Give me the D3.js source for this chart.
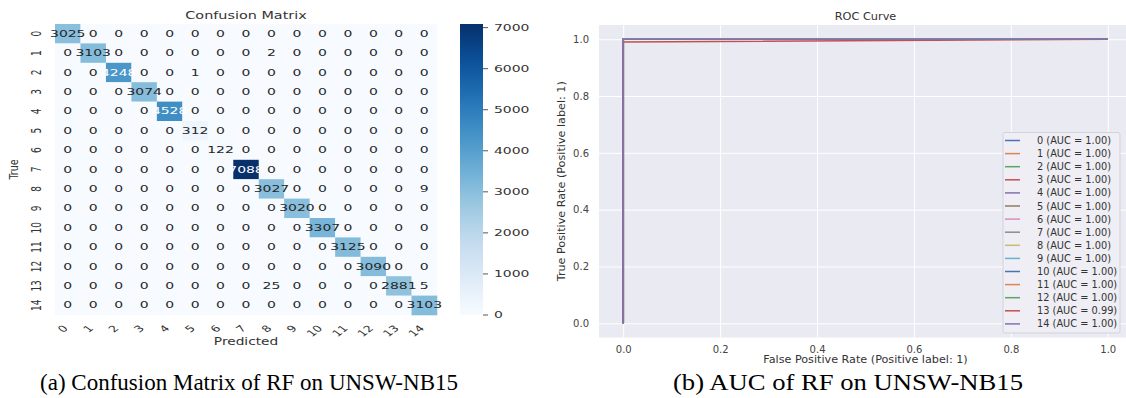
<!DOCTYPE html>
<html>
<head>
<meta charset="utf-8">
<script src="https://cdn.jsdelivr.net/npm/d3@7"></script>
<style>
  html, body { margin: 0; padding: 0; background: #fff; }
  svg { display: block; font-family: "DejaVu Sans", sans-serif; }
</style>
</head>
<body>
<svg id="chart" width="1126" height="398"></svg>
<script>
// ---------------- DATA ----------------
const cmLabels = ["0","1","2","3","4","5","6","7","8","9","10","11","12","13","14"];
const cmRow0  = [3025,0,0,0,0,0,0,0,0,0,0,0,0,0,0];
const cmRow1  = [0,3103,0,0,0,0,0,0,2,0,0,0,0,0,0];
const cmRow2  = [0,0,4248,0,0,1,0,0,0,0,0,0,0,0,0];
const cmRow3  = [0,0,0,3074,0,0,0,0,0,0,0,0,0,0,0];
const cmRow4  = [0,0,0,0,4528,0,0,0,0,0,0,0,0,0,0];
const cmRow5  = [0,0,0,0,0,312,0,0,0,0,0,0,0,0,0];
const cmRow6  = [0,0,0,0,0,0,122,0,0,0,0,0,0,0,0];
const cmRow7  = [0,0,0,0,0,0,0,7088,0,0,0,0,0,0,0];
const cmRow8  = [0,0,0,0,0,0,0,0,3027,0,0,0,0,0,9];
const cmRow9  = [0,0,0,0,0,0,0,0,0,3020,0,0,0,0,0];
const cmRow10 = [0,0,0,0,0,0,0,0,0,0,3307,0,0,0,0];
const cmRow11 = [0,0,0,0,0,0,0,0,0,0,0,3125,0,0,0];
const cmRow12 = [0,0,0,0,0,0,0,0,0,0,0,0,3090,0,0];
const cmRow13 = [0,0,0,0,0,0,0,0,25,0,0,0,0,2881,5];
const cmRow14 = [0,0,0,0,0,0,0,0,0,0,0,0,0,0,3103];
const cmMatrix = [cmRow0,cmRow1,cmRow2,cmRow3,cmRow4,cmRow5,cmRow6,cmRow7,cmRow8,cmRow9,cmRow10,cmRow11,cmRow12,cmRow13,cmRow14];
const colorbarTicks = [0,1000,2000,3000,4000,5000,6000,7000];

const rocClasses = ["0","1","2","3","4","5","6","7","8","9","10","11","12","13","14"];
const rocAuc = [1.00,1.00,1.00,1.00,1.00,1.00,1.00,1.00,1.00,1.00,1.00,1.00,1.00,0.99,1.00];
const rocPerfect = [[0,0],[0,1],[1,1]];
const rocClass13 = [[0,0],[0,0.99],[1,1]];
const rocCurves = [rocPerfect,rocPerfect,rocPerfect,rocPerfect,rocPerfect,rocPerfect,rocPerfect,rocPerfect,
                   rocPerfect,rocPerfect,rocPerfect,rocPerfect,rocPerfect,rocClass13,rocPerfect];
const rocTicks = [0.0,0.2,0.4,0.6,0.8,1.0];
const rocPalette = ["#4c72b0","#dd8452","#55a868","#c44e52","#8172b3","#937860","#da8bc3","#8c8c8c","#ccb974","#64b5cd"];

// ---------------- CHART ----------------
const svg = d3.select("#chart");
const txt = "#333333";

// ===== Left: confusion matrix =====
const cm = svg.append("g");
const x = d3.scaleBand().domain(cmLabels).range([55, 437]);
const y = d3.scaleBand().domain(cmLabels).range([24, 315]);
const vmax = d3.max(cmMatrix.flat());
const color = d3.scaleSequential(d3.interpolateBlues).domain([0, vmax]);

const cells = [];
cmMatrix.forEach((row, i) => row.forEach((v, j) => cells.push({r: cmLabels[i], c: cmLabels[j], v})));

cm.selectAll("rect.cell").data(cells).join("rect")
  .attr("class","cell")
  .attr("x", d => x(d.c)).attr("y", d => y(d.r))
  .attr("width", x.bandwidth() + 0.3).attr("height", y.bandwidth() + 0.3)
  .attr("fill", d => color(d.v));

function lum(c) {
  const rgb = d3.rgb(c);
  const f = u => { u /= 255; return u <= 0.03928 ? u / 12.92 : Math.pow((u + 0.055) / 1.055, 2.4); };
  return 0.2126 * f(rgb.r) + 0.7152 * f(rgb.g) + 0.0722 * f(rgb.b);
}

const sxCell = 1.55;
cm.selectAll("text.val").data(cells).join("text")
  .attr("class","val")
  .attr("transform", d => `translate(${x(d.c) + x.bandwidth()/2},${y(d.r) + y.bandwidth()/2}) scale(${sxCell},1)`)
  .attr("text-anchor","middle").attr("dominant-baseline","central")
  .attr("font-size", 9)
  .attr("fill", d => lum(color(d.v)) > 0.408 ? "#262626" : "#ffffff")
  .text(d => d.v);

// title
cm.append("text")
  .attr("transform", `translate(${(x.range()[0] + x.range()[1]) / 2},${19}) scale(1.31,1)`)
  .attr("text-anchor","middle").attr("font-size", 11).attr("fill", txt)
  .text("Confusion Matrix");

// y tick labels (rotated)
cm.selectAll("text.ytick").data(cmLabels).join("text")
  .attr("class","ytick")
  .attr("transform", d => `translate(${41},${y(d) + y.bandwidth()/2}) scale(1.5,1) rotate(-90)`)
  .attr("text-anchor","middle").attr("font-size", 9).attr("fill", txt)
  .text(d => d);

// y label
cm.append("text")
  .attr("transform", `translate(${18},${(y.range()[0] + y.range()[1]) / 2}) scale(1.3,1) rotate(-90)`)
  .attr("text-anchor","middle").attr("font-size", 9.5).attr("fill", txt)
  .text("True");

// x tick labels (rotated 45)
cm.selectAll("text.xtick").data(cmLabels).join("text")
  .attr("class","xtick")
  .attr("transform", d => `translate(${x(d) + x.bandwidth()/2 - 2},${327}) scale(1.4,1) rotate(-45)`)
  .attr("text-anchor","end").attr("dominant-baseline","central").attr("font-size", 9).attr("fill", txt)
  .text(d => d);

// x label
cm.append("text")
  .attr("transform", `translate(${(x.range()[0] + x.range()[1]) / 2},${345}) scale(1.37,1)`)
  .attr("text-anchor","middle").attr("font-size", 10).attr("fill", txt)
  .text("Predicted");

// colorbar
const cbY = d3.scaleLinear().domain([0, vmax]).range([315, 24]);
const defs = svg.append("defs");
const grad = defs.append("linearGradient").attr("id","cbgrad")
  .attr("x1","0").attr("y1","1").attr("x2","0").attr("y2","0");
d3.range(0, 1.0001, 0.05).forEach(t => {
  grad.append("stop").attr("offset", t).attr("stop-color", color(t * vmax));
});
cm.append("rect")
  .attr("x", 460).attr("y", cbY(vmax)).attr("width", 23).attr("height", cbY(0) - cbY(vmax))
  .attr("fill","url(#cbgrad)");
const cbt = cm.selectAll("g.cbt").data(colorbarTicks).join("g").attr("class","cbt")
  .attr("transform", d => `translate(483,${cbY(d)})`);
cbt.append("line").attr("x1",0).attr("x2",5).attr("stroke","#555").attr("stroke-width",1);
cbt.append("text")
  .attr("transform", `translate(11,0) scale(1.55,1)`)
  .attr("dominant-baseline","central").attr("font-size", 9).attr("fill", txt)
  .text(d => d);

// ===== Right: ROC =====
const roc = svg.append("g");
const xr = d3.scaleLinear().domain([-0.05, 1.05]).range([599, 1132]);
const yr = d3.scaleLinear().domain([-0.05, 1.05]).range([337.5, 25]);

roc.append("rect")
  .attr("x", xr(-0.05)).attr("y", yr(1.05))
  .attr("width", xr(1.05) - xr(-0.05)).attr("height", yr(-0.05) - yr(1.05))
  .attr("fill", "#eaeaf2");

// grid
roc.append("g").attr("transform", `translate(0,${yr(-0.05)})`)
  .call(d3.axisBottom(xr).tickValues(rocTicks).tickSize(-(yr(-0.05) - yr(1.05))).tickFormat(""))
  .call(g => g.select(".domain").remove())
  .call(g => g.selectAll("line").attr("stroke","#ffffff").attr("stroke-width",1));
roc.append("g").attr("transform", `translate(${xr(-0.05)},0)`)
  .call(d3.axisLeft(yr).tickValues(rocTicks).tickSize(-(xr(1.05) - xr(-0.05))).tickFormat(""))
  .call(g => g.select(".domain").remove())
  .call(g => g.selectAll("line").attr("stroke","#ffffff").attr("stroke-width",1));

// tick labels
roc.append("g").attr("transform", `translate(0,${yr(-0.05)})`)
  .call(d3.axisBottom(xr).tickValues(rocTicks).tickSize(0).tickPadding(8).tickFormat(d3.format(".1f")))
  .call(g => g.select(".domain").remove())
  .call(g => g.selectAll("text").attr("font-size", 10).attr("fill","#444").style("font-family","DejaVu Sans"));
roc.append("g").attr("transform", `translate(${xr(-0.05)},0)`)
  .call(d3.axisLeft(yr).tickValues(rocTicks).tickSize(0).tickPadding(10).tickFormat(d3.format(".1f")))
  .call(g => g.select(".domain").remove())
  .call(g => g.selectAll("text").attr("font-size", 10).attr("fill","#444").style("font-family","DejaVu Sans"));

// curves
const line = d3.line().x(d => xr(d[0])).y(d => yr(d[1]));
roc.selectAll("path.curve").data(rocCurves).join("path")
  .attr("class","curve")
  .attr("d", line)
  .attr("fill","none")
  .attr("stroke", (d, i) => rocPalette[i % rocPalette.length])
  .attr("stroke-width", 1.6);

// title + labels
roc.append("text")
  .attr("x", (xr(-0.05) + xr(1.05)) / 2).attr("y", 20)
  .attr("text-anchor","middle").attr("font-size", 11.3).attr("fill", txt)
  .text("ROC Curve");
roc.append("text")
  .attr("x", (xr(-0.05) + xr(1.05)) / 2).attr("y", 363)
  .attr("text-anchor","middle").attr("font-size", 11.2).attr("fill", txt)
  .text("False Positive Rate (Positive label: 1)");
roc.append("text")
  .attr("transform", `translate(565,${(yr(-0.05) + yr(1.05)) / 2}) rotate(-90)`)
  .attr("text-anchor","middle").attr("font-size", 11.2).attr("fill", txt)
  .text("True Positive Rate (Positive label: 1)");

// legend
const leg = roc.append("g");
leg.append("rect")
  .attr("x", 1003).attr("y", 132.5).attr("width", 117).attr("height", 200.5)
  .attr("rx", 2).attr("fill", "#eeeef4").attr("stroke", "#d2d2da").attr("stroke-width", 1);
const li = leg.selectAll("g.li").data(rocClasses).join("g").attr("class","li")
  .attr("transform", (d, i) => `translate(1005,${140.5 + i * 13.1})`);
li.append("line").attr("x1", 0).attr("x2", 15)
  .attr("stroke", (d, i) => rocPalette[i % rocPalette.length]).attr("stroke-width", 1.5);
li.append("text").attr("x", 32).attr("dominant-baseline","central")
  .attr("font-size", 9.8).attr("fill", txt)
  .text((d, i) => `${d} (AUC = ${rocAuc[i].toFixed(2)})`);

// ===== Captions =====
svg.append("text")
  .attr("x", 40).attr("y", 390)
  .style("font-family", "'Liberation Serif', 'Times New Roman', serif").attr("font-size", 23).attr("fill", "#000")
  .attr("textLength", 418).attr("lengthAdjust", "spacingAndGlyphs")
  .text("(a) Confusion Matrix of RF on UNSW-NB15");
svg.append("text")
  .attr("x", 673).attr("y", 390)
  .style("font-family", "'Liberation Serif', 'Times New Roman', serif").attr("font-size", 23).attr("fill", "#000")
  .attr("textLength", 350).attr("lengthAdjust", "spacingAndGlyphs")
  .text("(b) AUC of RF on UNSW-NB15");
</script>
</body>
</html>
